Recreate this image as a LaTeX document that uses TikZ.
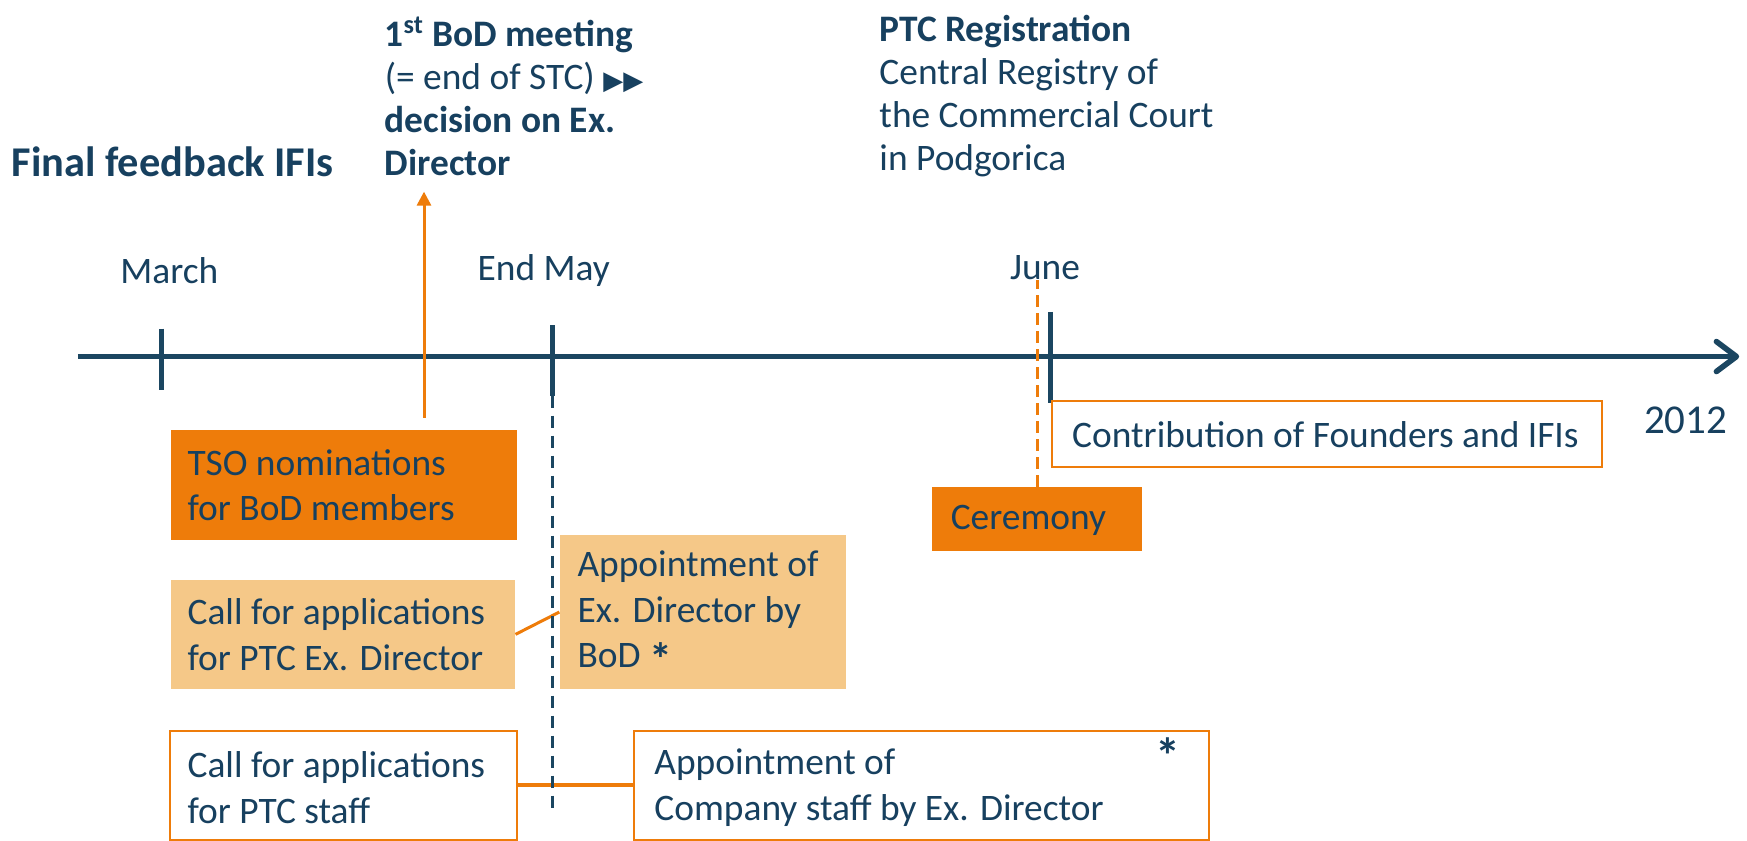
\documentclass[tikz,border=0pt]{standalone}
\usepackage{fontspec}
\setmainfont{Carlito}
\newfontfamily\symfont{DejaVu Sans}
\usetikzlibrary{arrows.meta,calc}
\definecolor{navy}{HTML}{17405F}
\definecolor{tl}{HTML}{1B4661}
\definecolor{org}{HTML}{EE7C0A}
\definecolor{lorg}{HTML}{F5C888}
\newcommand\pxu{0.557pt}
\begin{document}
\begin{tikzpicture}[x=0.557pt,y=-0.557pt,
  txt/.style={font=\fontsize{18.7}{22.8}\selectfont, text=navy, inner sep=0pt, align=flush left},
  toptxt/.style={font=\fontsize{18.7}{21.5}\selectfont, text=navy, inner sep=0pt, align=flush left},
  month/.style={font=\fontsize{18.7}{22.8}\selectfont, text=navy, inner sep=0pt},
  fbox/.style={anchor=north west, inner sep=0pt, fill=#1},
  obox/.style={anchor=north west, draw=org, line width=1pt, inner sep=0pt, fill=white},
  axis/.style={tl, line width=2.8pt},
  tick/.style={tl, line width=2.8pt},
  olink/.style={org, line width=1.5pt}
]
\useasboundingbox (0,0) rectangle (1568,754);
\fill[white] (0,0) rectangle (1568,754);

% texts at top
\node[font=\fontsize{21.2}{25}\selectfont\bfseries, text=navy, inner sep=0pt, anchor=west] (ffb) at (10,145) {Final feedback IFIs};
\node[toptxt, anchor=north west] (bod) at (345,15) {\textbf{1\textsuperscript{st} BoD meeting}\\(= end of STC) {\symfont\fontsize{13}{14}\selectfont ▶▶}\\\textbf{decision on Ex.}\\\textbf{Director}};
\node[toptxt, anchor=north west] (ptc) at (789,13) {\textbf{PTC Registration}\\Central Registry of\\the Commercial Court\\in Podgorica};

% months
\node[month] (mar) at (152,243) {March};
\node[month] (may) at (488,243) {End May};
\node[month] (jun) at (938,240) {June};
\node[font=\fontsize{20.5}{24}\selectfont, text=navy, inner sep=0pt] (yr) at (1513,377) {2012};

% timeline
\coordinate (t0) at (70,320);
\coordinate (t1) at (1561,320);
\draw[axis, -{Straight Barb[length=10pt,width=15pt,line width=2.8pt,round]}] (t0) -- (t1);
\coordinate (m0) at (145,295); \coordinate (m1) at (145,350);
\coordinate (e0) at (496,292); \coordinate (e1) at (496,355);
\coordinate (j0) at (943,280); \coordinate (j1) at (943,362);
\draw[tick] (m0) -- (m1);
\draw[tick] (e0) -- (e1);
\draw[tick] (j0) -- (j1);

% boxes
\node[fbox=org, minimum width=311*\pxu, minimum height=98*\pxu] (tso) at (153,386) {};
\node[txt, anchor=west] (tsot) at ($(tso.west)+(15,0)$) {TSO nominations\\for BoD members};
\node[fbox=lorg, minimum width=309*\pxu, minimum height=98*\pxu] (callex) at (153,520) {};
\node[txt, anchor=west] (callext) at ($(callex.west)+(15,0)$) {Call for applications\\for PTC Ex. Director};
\node[fbox=lorg, minimum width=257*\pxu, minimum height=138*\pxu] (apptex) at (502,480) {};
\node[txt, anchor=west] (apptext) at ($(apptex.west)+(16,1)$) {Appointment of\\Ex. Director by\\BoD \raisebox{-0.45ex}{\fontsize{23}{22.8}\selectfont\bfseries *}};
\node[fbox=org, minimum width=189*\pxu, minimum height=57*\pxu] (cer) at (836,437) {};
\node[txt, anchor=west] (cert) at ($(cer.west)+(17,1)$) {Ceremony};
\node[obox, minimum width=494*\pxu, minimum height=59*\pxu] (contrib) at (943,359) {};
\node[txt, anchor=west] (contribt) at ($(contrib.west)+(19,1)$) {Contribution of Founders and IFIs};
\node[obox, minimum width=311*\pxu, minimum height=98*\pxu] (callst) at (152,655) {};
\node[txt, anchor=west] (callstt) at ($(callst.west)+(16,2)$) {Call for applications\\for PTC staff};
\node[obox, minimum width=516*\pxu, minimum height=98*\pxu] (apptst) at (568,655) {};
\node[txt, anchor=west] (apptstt) at ($(apptst.west)+(19,2)$) {Appointment of\\Company staff by Ex. Director};
\node[font=\fontsize{25}{26}\selectfont\bfseries, text=navy, inner sep=0pt] (star) at (1048,678) {*};

% connectors
\draw[olink] (callex.east) -- (apptex.west);
\draw[org, line width=2pt] (callst.east) -- (apptst.west);
\coordinate (upstart) at ($(tso.north west)!0.73!(tso.north east)+(0,-11)$);
\coordinate (uptip) at (upstart |- 0,172);
\draw[org, line width=1.5pt, -{Triangle[length=7pt,width=7pt]}] (upstart) -- (uptip);
\draw[org, line width=1.5pt, dash pattern=on 6pt off 3pt] (cer.north) -- (cer.north |- jun.south);
\coordinate (mayend) at (496,728);
\draw[tl, line width=1.5pt, dash pattern=on 6pt off 4pt] (e1) -- (mayend);
\end{tikzpicture}
\end{document}
